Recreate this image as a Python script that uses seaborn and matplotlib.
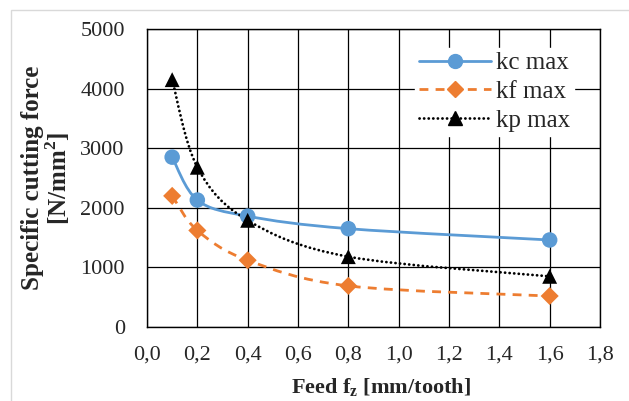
import numpy as np
import pandas as pd
import seaborn as sns
import matplotlib
matplotlib.use("Agg")
import matplotlib.pyplot as plt
from matplotlib.path import Path
from matplotlib.patches import PathPatch, Rectangle
from matplotlib.lines import Line2D
from matplotlib.ticker import FuncFormatter

# ---- data ----
feed = [0.1, 0.2, 0.4, 0.8, 1.6]
kc_max = [2850, 2130, 1860, 1650, 1460]
kf_max = [2200, 1620, 1120, 690, 520]
kp_max = [4150, 2680, 1790, 1180, 850]
series_names = ["kc max", "kf max", "kp max"]
x_ticks = [0.0, 0.2, 0.4, 0.6, 0.8, 1.0, 1.2, 1.4, 1.6, 1.8]
y_ticks = [0, 1000, 2000, 3000, 4000, 5000]

df = pd.DataFrame({
    "feed": feed * 3,
    "value": kc_max + kf_max + kp_max,
    "series": [n for n in series_names for _ in feed],
})

colors = {"kc max": "#5B9BD5", "kf max": "#ED7D31", "kp max": "#000000"}
markers = {"kc max": "o", "kf max": "D", "kp max": "^"}
msize = {"kc max": 125, "kf max": 85, "kp max": 115}
leg_msize = {"kc max": 10, "kf max": 8, "kp max": 10}
lstyles = {"kc max": "-", "kf max": (0, (3.2, 2.6)), "kp max": (0, (0.05, 1.6))}
caps = {"kc max": "butt", "kf max": "butt", "kp max": "round"}

sns.set_style("white")
plt.rcParams["font.family"] = ["Liberation Serif", "DejaVu Serif"]
plt.rcParams["mathtext.fontset"] = "custom"
plt.rcParams["mathtext.rm"] = "Liberation Serif"
plt.rcParams["mathtext.bf"] = "Liberation Serif:bold"

FS = 16

fig = plt.figure(figsize=(6.29, 4.01), dpi=100)
ax = fig.add_axes([147 / 629, 1 - 327 / 401, 453 / 629, 298 / 401])

# outer chart-area border
fig.patches.append(Rectangle((11 / 629, -0.05), 1.2, 1 - 10 / 401 + 0.05,
                             transform=fig.transFigure, fill=False,
                             edgecolor="#D9D9D9", linewidth=1.0, zorder=0))


def smooth_path(xs, ys):
    pts = np.column_stack([xs, ys]).astype(float)
    n = len(pts)
    verts = [pts[0]]
    codes = [Path.MOVETO]
    for i in range(n - 1):
        p0 = pts[i - 1] if i > 0 else pts[i]
        p1 = pts[i]
        p2 = pts[i + 1]
        p3 = pts[i + 2] if i + 2 < n else pts[i + 1]
        c1 = p1 + (p2 - p0) / 6.0
        c2 = p2 - (p3 - p1) / 6.0
        verts += [c1, c2, p2]
        codes += [Path.CURVE4] * 3
    return Path(verts, codes)


for name in series_names:
    sub = df[df["series"] == name]
    patch = PathPatch(smooth_path(sub["feed"], sub["value"]), fill=False,
                      edgecolor=colors[name], linewidth=2.0,
                      linestyle=lstyles[name], capstyle=caps[name], zorder=3)
    ax.add_patch(patch)

sns.scatterplot(data=df, x="feed", y="value", hue="series", style="series",
                palette=colors, markers=markers, size="series", sizes=msize,
                edgecolor="none", linewidth=0, legend=False, ax=ax, zorder=4)

ax.set_xlim(0, 1.8)
ax.set_ylim(0, 5000)
ax.set_xticks(x_ticks)
ax.set_yticks(y_ticks)
ax.xaxis.set_major_formatter(FuncFormatter(lambda v, p: f"{v:.1f}".replace(".", ",")))
ax.yaxis.set_major_formatter(FuncFormatter(lambda v, p: f"{int(v)}"))
ax.grid(True, color="black", linewidth=0.9)
ax.set_axisbelow(True)
for sp in ax.spines.values():
    sp.set_color("black")
    sp.set_linewidth(1.0)
ax.tick_params(axis="x", length=0, labelsize=FS, pad=13)
ax.tick_params(axis="y", length=0, labelsize=FS, pad=16)

ax.set_xlabel(r"Feed f$_\mathbf{z}$ [mm/tooth]", fontsize=FS, fontweight="bold")
ax.xaxis.set_label_coords((381 - 147) / 453, (327 - 376) / 298)
ax.set_ylabel("Specific cutting force\n[N/mm$^\\mathbf{2}$]", fontsize=18,
              fontweight="bold", linespacing=0.95)
ax.yaxis.set_label_coords((72 - 147) / 453, 0.5)

handles = [Line2D([], [], color=colors[n], marker=markers[n], linestyle=lstyles[n],
                  linewidth=2.0, markersize=leg_msize[n],
                  dash_capstyle=caps[n], label=n) for n in series_names]
leg = ax.legend(handles=handles, loc="upper right",
                bbox_to_anchor=((574 - 147) / 453, (327 - 48) / 298),
                borderaxespad=0, frameon=True, fancybox=False, framealpha=1,
                edgecolor="white", facecolor="white", fontsize=18,
                handlelength=2.9, handletextpad=0.2,
                labelspacing=0.25, borderpad=0.15)
leg.set_zorder(5)

fig.savefig("out.png", dpi=100)
